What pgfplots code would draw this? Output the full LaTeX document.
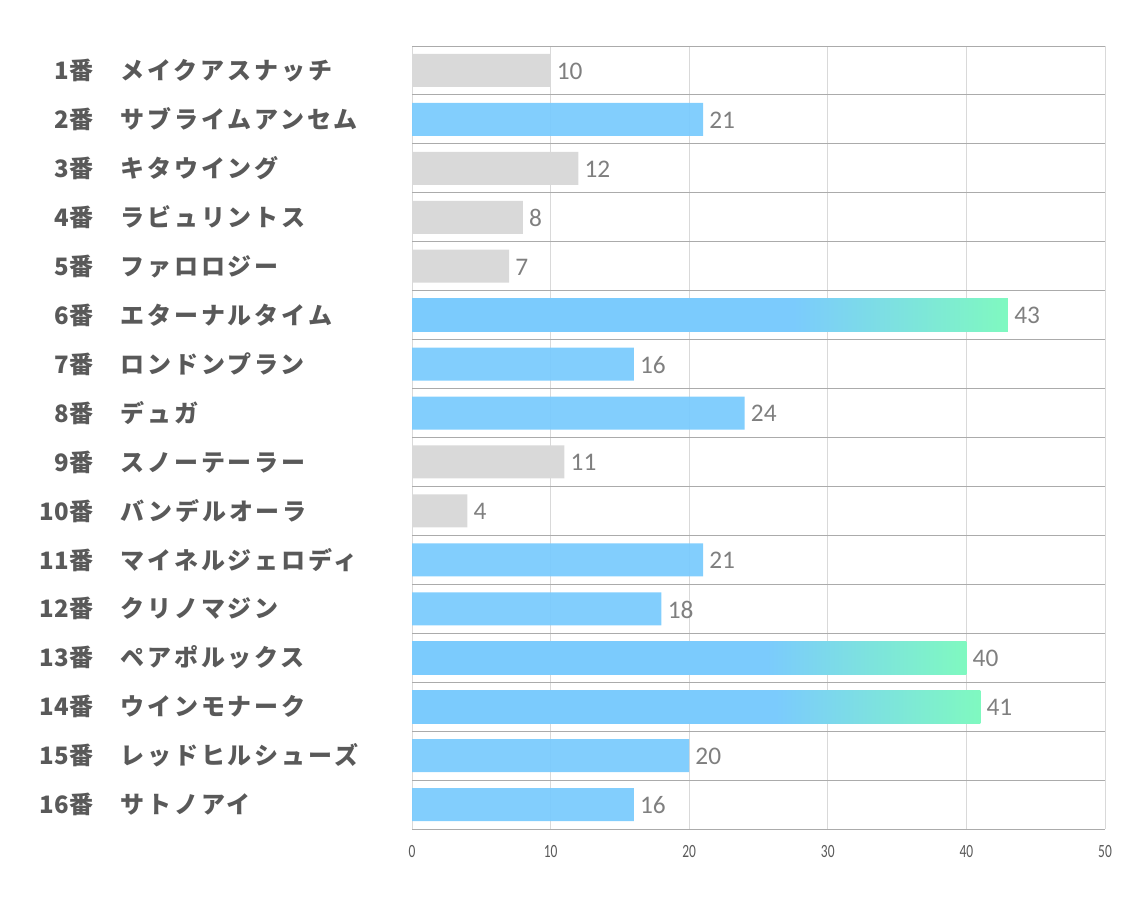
\documentclass[border=0pt]{standalone}
\usepackage{pgfplots}
\pgfplotsset{compat=1.18}
\usepackage{fontspec}
\setmainfont{Carlito}
\newfontfamily\jpnum{Noto Sans CJK JP}
\newfontfamily\jpname[LetterSpace=12]{Noto Sans CJK JP}
\newfontfamily\tickfont[FakeStretch=0.72]{Carlito}
\definecolor{bargray}{HTML}{D9D9D9}
\definecolor{barblue}{HTML}{7BCBFD}
\definecolor{bargreen}{HTML}{7FF9C0}
\definecolor{labelgray}{HTML}{595959}
\definecolor{valgray}{HTML}{7F7F7F}
\definecolor{hgrid}{HTML}{ABABAB}
\definecolor{vgrid}{HTML}{D9D9D9}
\pgfdeclarehorizontalshading{bargrad}{100bp}{color(0bp)=(barblue); color(57bp)=(barblue); color(75bp)=(bargreen); color(100bp)=(bargreen)}
\newcommand{\lab}[2]{\makebox[70pt][r]{\jpnum\bfseries #1}\makebox[20.5pt]{}\makebox[218.5pt][l]{\jpname\bfseries #2}}
\begin{document}
\begin{tikzpicture}
\useasboundingbox (0,0) rectangle (850.5pt,680.25pt);
\begin{axis}[
  at={(309pt,58.5pt)}, anchor=south west,
  scale only axis, width=519.75pt, height=587.25pt,
  xmin=0, xmax=50, ymin=-0.5, ymax=15.5,
  y dir=reverse,
  axis line style={draw=none},
  xtick={0,10,20,30,40,50},
  xmajorgrids, major grid style={draw=vgrid, line width=0.75pt},
  ytick={0,...,15},
  minor ytick={-0.5,0.5,...,15.5},
  yminorgrids, minor grid style={draw=hgrid, line width=0.75pt},
  major tick length=0pt, minor tick length=0pt,
  xticklabel style={font=\tickfont\fontsize{14}{16}\selectfont, text=labelgray, yshift=-9pt},
  /pgf/number format/assume math mode=true,
  yticklabel style={inner sep=0pt, anchor=east, font=\fontsize{18}{20}\selectfont, text=labelgray},
  yticklabels={\lab{1番}{メイクアスナッチ},\lab{2番}{サブライムアンセム},\lab{3番}{キタウイング},\lab{4番}{ラビュリントス},\lab{5番}{ファロロジー},\lab{6番}{エターナルタイム},\lab{7番}{ロンドンプラン},\lab{8番}{デュガ},\lab{9番}{スノーテーラー},\lab{10番}{バンデルオーラ},\lab{11番}{マイネルジェロディ},\lab{12番}{クリノマジン},\lab{13番}{ペアポルックス},\lab{14番}{ウインモナーク},\lab{15番}{レッドヒルシューズ},\lab{16番}{サトノアイ}},
  xbar, bar width=24.75pt, bar shift=0pt,
  nodes near coords,
  nodes near coords style={anchor=west, inner sep=0pt, xshift=4.5pt, yshift=-0.5pt, text=valgray, font=\fontsize{19}{21}\selectfont},
  clip=false,
]
\addplot[draw=none, fill=bargray] coordinates {(10,0) (12,2) (8,3) (7,4) (11,8) (4,9)};
\addplot[draw=none, fill=barblue, fill opacity=0.95, text opacity=1] coordinates {(21,1) (16,6) (24,7) (21,10) (18,11) (20,14) (16,15)};
\addplot[draw=none, shade, shading=bargrad] coordinates {(43,5)};
\addplot[draw=none, shade, shading=bargrad] coordinates {(40,12)};
\addplot[draw=none, shade, shading=bargrad] coordinates {(41,13)};
\end{axis}
\end{tikzpicture}
\end{document}
